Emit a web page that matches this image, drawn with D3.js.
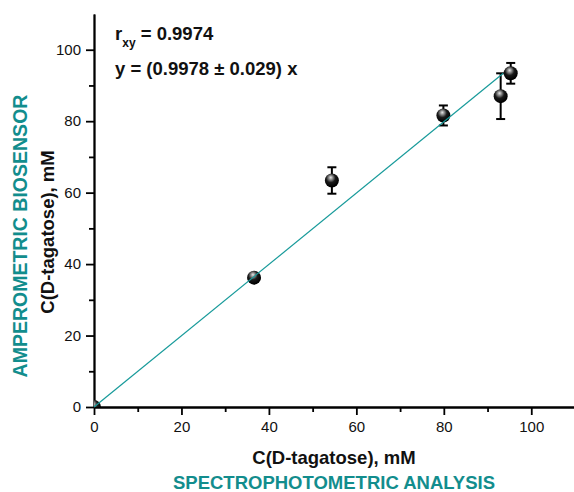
<!DOCTYPE html>
<html>
<head>
<meta charset="utf-8">
<script src="https://cdn.jsdelivr.net/npm/d3@7"></script>
<style>
  html, body { margin: 0; padding: 0; background: #fff; }
  svg { display: block; font-family: Arial, "Liberation Sans", sans-serif; }
</style>
</head>
<body>
<svg id="chart" width="574" height="492"></svg>
<script>
// Spectrophotometric reference vs. amperometric biosensor, D-tagatose (mM)
const xValues = [0, 36.6, 54.4, 79.9, 93.0, 95.3];
const yValues = [0, 36.2, 63.4, 81.6, 87.0, 93.4];
const yErrors = [0, 0.6, 3.7, 2.8, 6.4, 2.9];
const fitSlope = 0.9978;
const fitRange = [0, 93.6];
const tickValues = [0, 20, 40, 60, 80, 100];
const minorTickValues = [10, 30, 50, 70, 90];

const teal = "#128d8d";
const titleSize = "18.5px";
const svg = d3.select("#chart");
const plotLeft = 94, plotRight = 575, plotTop = 14, plotBottom = 407;

const x = d3.scaleLinear().domain([0, 110]).range([plotLeft, plotRight]);
const y = d3.scaleLinear().domain([0, 110]).range([plotBottom, plotTop]);

// sphere-like marker shading
const defs = svg.append("defs");
const grad = defs.append("radialGradient").attr("id", "sphere")
  .attr("cx", "42%").attr("cy", "35%").attr("r", "60%")
  .attr("fx", "42%").attr("fy", "28%");
grad.append("stop").attr("offset", "0%").attr("stop-color", "#e8e8e8");
grad.append("stop").attr("offset", "25%").attr("stop-color", "#8a8a8a");
grad.append("stop").attr("offset", "55%").attr("stop-color", "#1a1a1a");
grad.append("stop").attr("offset", "100%").attr("stop-color", "#000");
defs.append("clipPath").attr("id", "markerClip")
  .append("rect").attr("x", plotLeft).attr("y", 0)
  .attr("width", 600).attr("height", plotBottom);

// axes
const axisX = d3.axisBottom(x).tickValues(tickValues).tickSize(8).tickSizeOuter(0).tickPadding(6);
const axisXminor = d3.axisBottom(x).tickValues(minorTickValues).tickSize(5).tickFormat("").tickSizeOuter(0);
const axisY = d3.axisLeft(y).tickValues(tickValues).tickSize(8).tickSizeOuter(0).tickPadding(5);
const axisYminor = d3.axisLeft(y).tickValues(minorTickValues).tickSize(5).tickFormat("").tickSizeOuter(0);

function styleAxis(g) {
  g.selectAll("path").attr("stroke", "#000").attr("stroke-width", 1.8);
  g.selectAll("line").attr("stroke", "#000").attr("stroke-width", 1.8);
  g.selectAll("text").attr("fill", "#111").style("font-size", "15px")
    .style("font-family", "Arial, 'Liberation Sans', sans-serif");
}

svg.append("g").attr("transform", `translate(0,${plotBottom})`).call(axisXminor).call(styleAxis);
svg.append("g").attr("transform", `translate(0,${plotBottom})`).call(axisX).call(styleAxis);
svg.append("g").attr("transform", `translate(${plotLeft},0)`).call(axisYminor).call(styleAxis);
svg.append("g").attr("transform", `translate(${plotLeft},0)`).call(axisY).call(styleAxis);

// data
const pts = xValues.map((v, i) => ({ x: v, y: yValues[i], e: yErrors[i] }));
const plot = svg.append("g");

// error bars
const eb = plot.selectAll("g.err").data(pts.filter(d => d.e >= 1)).join("g").attr("class", "err")
  .attr("stroke", "#000").attr("stroke-width", 2);
eb.append("line").attr("x1", d => x(d.x)).attr("x2", d => x(d.x))
  .attr("y1", d => y(d.y + d.e)).attr("y2", d => y(d.y - d.e));
eb.append("line").attr("x1", d => x(d.x) - 4.5).attr("x2", d => x(d.x) + 4.5)
  .attr("y1", d => y(d.y + d.e)).attr("y2", d => y(d.y + d.e));
eb.append("line").attr("x1", d => x(d.x) - 4.5).attr("x2", d => x(d.x) + 4.5)
  .attr("y1", d => y(d.y - d.e)).attr("y2", d => y(d.y - d.e));

// markers
plot.append("g").attr("clip-path", "url(#markerClip)")
  .selectAll("circle").data(pts).join("circle")
  .attr("cx", d => x(d.x)).attr("cy", d => y(d.y)).attr("r", 7)
  .attr("fill", "url(#sphere)");

// regression line y = kx
svg.append("line")
  .attr("x1", x(fitRange[0])).attr("y1", y(fitSlope * fitRange[0]))
  .attr("x2", x(fitRange[1])).attr("y2", y(fitSlope * fitRange[1]))
  .attr("stroke", "#179a9a").attr("stroke-width", 1.2);

// statistics annotation
const stat = svg.append("g").style("font-weight", "bold").attr("fill", "#111");
const t1 = stat.append("text").attr("x", 115).attr("y", 40).style("font-size", titleSize);
t1.append("tspan").text("r");
t1.append("tspan").attr("dy", 7).style("font-size", "12px").text("xy");
t1.append("tspan").attr("dy", -7).text(" = 0.9974");
stat.append("text").attr("x", 115).attr("y", 75).style("font-size", titleSize)
  .text("y = (0.9978 \u00b1 0.029) x");

// axis titles
svg.append("text").attr("x", 334).attr("y", 464).attr("text-anchor", "middle")
  .style("font-size", titleSize).style("font-weight", "bold").attr("fill", "#111")
  .text("C(D-tagatose), mM");
svg.append("text").attr("x", 334).attr("y", 489).attr("text-anchor", "middle")
  .style("font-size", titleSize).style("font-weight", "bold").attr("fill", teal)
  .text("SPECTROPHOTOMETRIC ANALYSIS");
svg.append("text").attr("transform", "translate(54,232) rotate(-90)").attr("text-anchor", "middle")
  .style("font-size", titleSize).style("font-weight", "bold").attr("fill", "#111")
  .text("C(D-tagatose), mM");
svg.append("text").attr("transform", "translate(27,236) rotate(-90)").attr("text-anchor", "middle")
  .style("font-size", "19.5px").style("font-weight", "bold").attr("fill", teal)
  .text("AMPEROMETRIC BIOSENSOR");
</script>
</body>
</html>
